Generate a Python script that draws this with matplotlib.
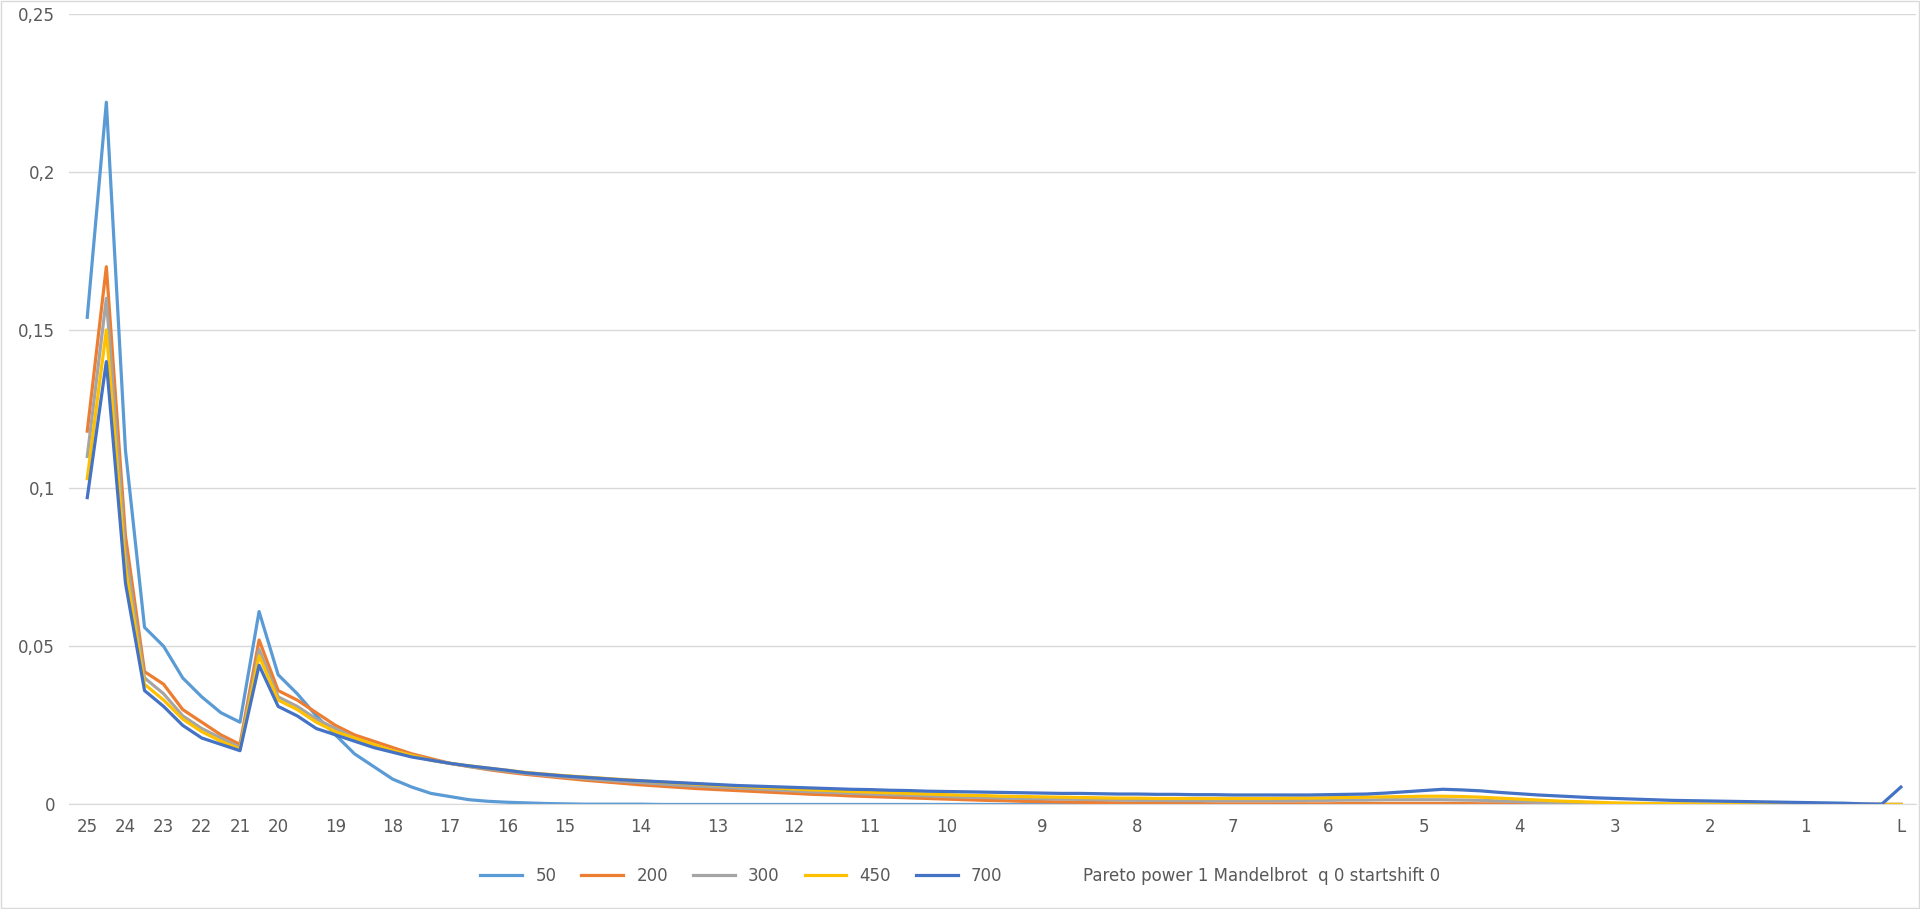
import matplotlib.pyplot as plt

# category labels: labelled points only, others blank
label_pos = {0: "25", 2: "24", 4: "23", 6: "22", 8: "21", 10: "20", 13: "19", 16: "18",
             19: "17", 22: "16", 25: "15", 29: "14", 33: "13", 37: "12", 41: "11", 45: "10",
             50: "9", 55: "8", 60: "7", 65: "6", 70: "5", 75: "4", 80: "3", 85: "2", 90: "1", 95: "L"}
n_points = 96

s50 = [0.154, 0.222, 0.112, 0.056, 0.050, 0.040, 0.034, 0.029, 0.026, 0.061,
       0.041, 0.035, 0.028, 0.022, 0.016, 0.012, 0.008, 0.0055, 0.0035, 0.0025,
       0.0015, 0.001, 0.0007, 0.0005, 0.0003, 0.0002, 0.0001, 0.0001, 0.0001, 0.0001] + [0.0] * 66

s200 = [0.118, 0.170, 0.085, 0.042, 0.038, 0.030, 0.026, 0.022, 0.019, 0.052,
        0.036, 0.033, 0.029, 0.025, 0.022, 0.020, 0.018, 0.016, 0.0145, 0.013,
        0.012, 0.011, 0.0102, 0.0095, 0.0089, 0.0083, 0.0077, 0.0072, 0.0067, 0.0062,
        0.0058, 0.0054, 0.0050, 0.0047, 0.0044, 0.0041, 0.0038, 0.0035, 0.0032, 0.0030,
        0.0027, 0.0025, 0.0023, 0.0021, 0.0019, 0.0017, 0.0015, 0.0013, 0.0012, 0.0010,
        0.0009, 0.0008, 0.0007, 0.0006, 0.0005, 0.0004, 0.0004, 0.0003, 0.0003, 0.0002,
        0.0002, 0.0002, 0.0002, 0.0002, 0.0002, 0.0002, 0.0003, 0.0003, 0.0003, 0.0003,
        0.0003, 0.0003, 0.0003, 0.0002, 0.0002, 0.0001, 0.0001, 0.0001] + [0.0] * 18

s300 = [0.110, 0.160, 0.080, 0.040, 0.035, 0.028, 0.024, 0.021, 0.018, 0.049,
        0.034, 0.031, 0.027, 0.024, 0.021, 0.019, 0.017, 0.0155, 0.014, 0.013,
        0.012, 0.0112, 0.0105, 0.0098, 0.0092, 0.0087, 0.0082, 0.0077, 0.0073, 0.0069,
        0.0065, 0.0061, 0.0058, 0.0055, 0.0052, 0.0049, 0.0046, 0.0043, 0.0040, 0.0038,
        0.0035, 0.0033, 0.0031, 0.0029, 0.0027, 0.0025, 0.0023, 0.0022, 0.0020, 0.0019,
        0.0018, 0.0017, 0.0016, 0.0015, 0.0014, 0.0013, 0.0013, 0.0012, 0.0012, 0.0012,
        0.0012, 0.0012, 0.0012, 0.0012, 0.0013, 0.0013, 0.0014, 0.0014, 0.0015, 0.0015,
        0.0015, 0.0015, 0.0014, 0.0013, 0.0011, 0.0009, 0.0007, 0.0005, 0.0004, 0.0003,
        0.0002, 0.0001, 0.0001] + [0.0] * 13

s450 = [0.103, 0.150, 0.075, 0.038, 0.033, 0.027, 0.023, 0.020, 0.0175, 0.047,
        0.033, 0.030, 0.026, 0.023, 0.021, 0.019, 0.017, 0.0155, 0.014, 0.013,
        0.0122, 0.0115, 0.0108, 0.0101, 0.0096, 0.0091, 0.0087, 0.0083, 0.0079, 0.0075,
        0.0071, 0.0068, 0.0064, 0.0061, 0.0058, 0.0055, 0.0052, 0.0049, 0.0046, 0.0044,
        0.0041, 0.0039, 0.0037, 0.0035, 0.0033, 0.0031, 0.0029, 0.0028, 0.0026, 0.0025,
        0.0024, 0.0023, 0.0022, 0.0021, 0.0020, 0.0020, 0.0019, 0.0019, 0.0019, 0.0019,
        0.0019, 0.0019, 0.0019, 0.0020, 0.0020, 0.0021, 0.0022, 0.0023, 0.0024, 0.0025,
        0.0026, 0.0026, 0.0025, 0.0023, 0.0020, 0.0017, 0.0014, 0.0011, 0.0009, 0.0007,
        0.0005, 0.0004, 0.0003, 0.0002, 0.0002, 0.0001, 0.0001] + [0.0] * 9

s700 = [0.097, 0.140, 0.070, 0.036, 0.031, 0.025, 0.021, 0.019, 0.017, 0.044,
        0.031, 0.028, 0.024, 0.022, 0.020, 0.018, 0.0165, 0.015, 0.014, 0.013,
        0.0122, 0.0115, 0.0108, 0.0100, 0.0095, 0.0090, 0.0086, 0.0082, 0.0078, 0.0075,
        0.0072, 0.0069, 0.0066, 0.0063, 0.0060, 0.0058, 0.0056, 0.0054, 0.0052, 0.0050,
        0.0048, 0.0047, 0.0045, 0.0044, 0.0042, 0.0041, 0.0040, 0.0039, 0.0038, 0.0037,
        0.0036, 0.0035, 0.0035, 0.0034, 0.0033, 0.0033, 0.0032, 0.0032, 0.0031, 0.0031,
        0.0030, 0.0030, 0.0030, 0.0030, 0.0030, 0.0031, 0.0032, 0.0033, 0.0036, 0.0040,
        0.0044, 0.0048, 0.0046, 0.0043, 0.0038, 0.0034, 0.0030, 0.0027, 0.0024, 0.0021,
        0.0019, 0.0017, 0.0015, 0.0013, 0.0012, 0.0011, 0.0010, 0.0009, 0.0008, 0.0007,
        0.0006, 0.0005, 0.0004, 0.0002, 0.0001, 0.0055]

series = [("50", s50, "#5B9BD5"), ("200", s200, "#ED7D31"), ("300", s300, "#A5A5A5"),
          ("450", s450, "#FFC000"), ("700", s700, "#4472C4")]
note = "Pareto power 1 Mandelbrot  q 0 startshift 0"

fig = plt.figure(figsize=(19.2, 9.09), dpi=100)
ax = fig.add_axes([0.036, 0.115, 0.962, 0.87])

x = list(range(n_points))
for name, vals, col in series:
    ax.plot(x, vals, color=col, lw=2.3, label=name, solid_joinstyle="round")
ax.plot([], [], color="none", label=note)

ax.set_xlim(-0.95, 95.8)
ax.set_ylim(0, 0.25)
ax.set_yticks([0, 0.05, 0.1, 0.15, 0.2, 0.25])
ax.set_yticklabels(["0", "0,05", "0,1", "0,15", "0,2", "0,25"])
ax.set_xticks(list(label_pos.keys()))
ax.set_xticklabels(list(label_pos.values()))
ax.tick_params(length=0, labelsize=12, colors="#595959", pad=10)
ax.grid(axis="y", color="#D9D9D9", lw=1)
ax.set_axisbelow(True)
for side in ["top", "right", "left"]:
    ax.spines[side].set_visible(False)
ax.spines["bottom"].set_color("#D9D9D9")

fig.legend(loc="lower center", bbox_to_anchor=(0.5, 0.01), ncol=6, frameon=False,
           fontsize=12, labelcolor="#595959", handlelength=2.5, columnspacing=1.5)
fig.patches.append(plt.Rectangle((0.0005, 0.001), 0.999, 0.998, transform=fig.transFigure,
                                 fill=False, edgecolor="#D9D9D9", lw=1))

fig.savefig("out.png", dpi=100)
